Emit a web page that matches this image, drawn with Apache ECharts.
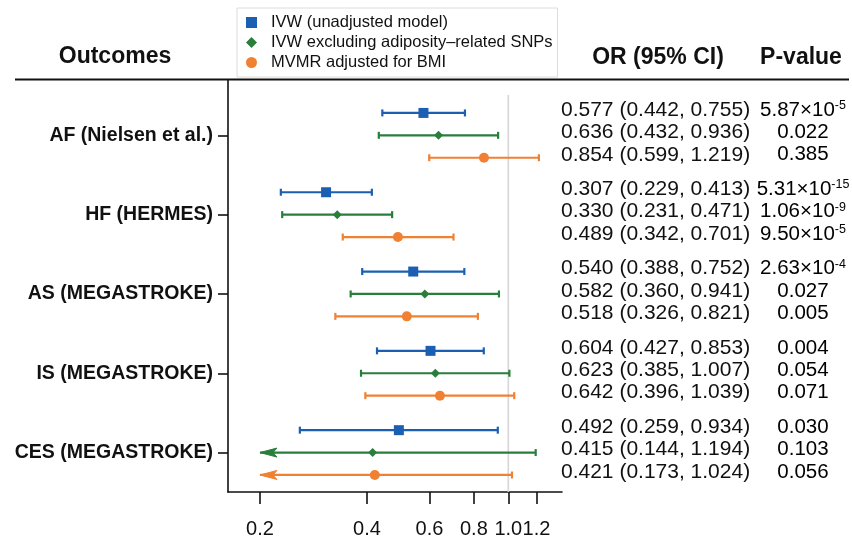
<!DOCTYPE html>
<html>
<head>
<meta charset="utf-8">
<script src="https://cdn.jsdelivr.net/npm/echarts@6/dist/echarts.min.js"></script>
<style>
html,body{margin:0;padding:0;background:#fff;}
#chart{width:852px;height:541px;}
</style>
</head>
<body>
<div id="chart"></div>
<script>
// ---------- data ----------
const outcomes = ['AF (Nielsen et al.)', 'HF (HERMES)', 'AS (MEGASTROKE)', 'IS (MEGASTROKE)', 'CES (MEGASTROKE)'];
const methods = ['IVW (unadjusted model)', 'IVW excluding adiposity\u2013related SNPs', 'MVMR adjusted for BMI'];

const orIVW  = [0.577, 0.307, 0.540, 0.604, 0.492];
const loIVW  = [0.442, 0.229, 0.388, 0.427, 0.259];
const hiIVW  = [0.755, 0.413, 0.752, 0.853, 0.934];
const pIVW   = ['5.87×10^-5', '5.31×10^-15', '2.63×10^-4', '0.004', '0.030'];

const orExcl = [0.636, 0.330, 0.582, 0.623, 0.415];
const loExcl = [0.432, 0.231, 0.360, 0.385, 0.144];
const hiExcl = [0.936, 0.471, 0.941, 1.007, 1.194];
const pExcl  = ['0.022', '1.06×10^-9', '0.027', '0.054', '0.103'];

const orMVMR = [0.854, 0.489, 0.518, 0.642, 0.421];
const loMVMR = [0.599, 0.342, 0.326, 0.396, 0.173];
const hiMVMR = [1.219, 0.701, 0.821, 1.039, 1.024];
const pMVMR  = ['0.385', '9.50×10^-5', '0.005', '0.071', '0.056'];

const tickValues = [0.2, 0.4, 0.6, 0.8, 1.0, 1.2];
const tickLabels = ['0.2', '0.4', '0.6', '0.8', '1.0', '1.2'];
const clipLow = 0.2;
const refValue = 1.0;

// ---------- layout helpers ----------
const colors = ['#1b5fb3', '#2a7e3b', '#f08133'];
const symbols = ['rect', 'diamond', 'circle'];
const symSizes = [10, 9, 10];
const groupStep = 3.54;
const xMinVal = 0.1626, xMaxVal = 1.416;
const yMin = -1.47, yMax = 16.92;
const FONT = '"Liberation Sans", Arial, Helvetica, sans-serif';

const methodData = [
  {or: orIVW, lo: loIVW, hi: hiIVW, p: pIVW},
  {or: orExcl, lo: loExcl, hi: hiExcl, p: pExcl},
  {or: orMVMR, lo: loMVMR, hi: hiMVMR, p: pMVMR}
];
function rowPos(g, r) { return g * groupStep + r; }
const groupCenters = outcomes.map((_, g) => rowPos(g, 1));
const fmt = v => v.toFixed(3);

const series = [];
methodData.forEach((m, mi) => {
  const barData = m.or.map((_, g) => {
    const clipped = m.lo[g] < clipLow ? 1 : 0;
    return [rowPos(g, mi), Math.log(Math.max(m.lo[g], clipLow)), Math.log(m.hi[g]), clipped];
  });
  series.push({
    type: 'custom',
    name: 'ci' + mi,
    data: barData,
    encode: {x: [1, 2], y: 0},
    clip: false,
    z: 2,
    renderItem: function (params, api) {
      const y = api.value(0);
      const p1 = api.coord([api.value(1), y]);
      const p2 = api.coord([api.value(2), y]);
      const clipped = api.value(3) === 1;
      const st = {stroke: colors[mi], lineWidth: 2.2};
      const ch = [
        {type: 'line', shape: {x1: p1[0], y1: p1[1], x2: p2[0], y2: p2[1]}, style: st},
        {type: 'line', shape: {x1: p2[0], y1: p2[1] - 3.5, x2: p2[0], y2: p2[1] + 3.5}, style: st}
      ];
      if (clipped) {
        ch.push({type: 'polygon', shape: {points: [
          [p1[0], p1[1]], [p1[0] + 17, p1[1] - 4.5], [p1[0] + 13, p1[1]], [p1[0] + 17, p1[1] + 4.5]
        ]}, style: {fill: colors[mi], stroke: colors[mi], lineWidth: 1}});
      } else {
        ch.push({type: 'line', shape: {x1: p1[0], y1: p1[1] - 3.5, x2: p1[0], y2: p1[1] + 3.5}, style: st});
      }
      return {type: 'group', children: ch};
    }
  });
  series.push({
    type: 'scatter',
    name: methods[mi],
    symbol: symbols[mi],
    symbolSize: symSizes[mi],
    itemStyle: {color: colors[mi], opacity: 1},
    z: 3,
    data: m.or.map((v, g) => [Math.log(v), rowPos(g, mi)])
  });
  // text columns
  series.push({
    type: 'custom',
    name: 'txt' + mi,
    clip: false,
    silent: true,
    z: 4,
    data: m.or.map((v, g) => [0, rowPos(g, mi), g]),
    encode: {x: 0, y: 1},
    renderItem: function (params, api) {
      const g = api.value(2);
      const py = api.coord([0, api.value(1)])[1] - 3;
      const orText = fmt(m.or[g]) + ' (' + fmt(m.lo[g]) + ', ' + fmt(m.hi[g]) + ')';
      const ps = m.p[g];
      let pText;
      if (ps.indexOf('^') >= 0) {
        const parts = ps.split('^');
        pText = '{b|' + parts[0] + '}{s|' + parts[1] + '}';
      } else {
        pText = '{b|' + ps + '}';
      }
      return {type: 'group', children: [
        {type: 'text', x: 561, y: py, style: {text: orText, font: '21px ' + FONT, fill: '#111',
          textAlign: 'left', textVerticalAlign: 'middle'}},
        {type: 'text', x: 803, y: py, style: {text: pText, textAlign: 'center', textVerticalAlign: 'middle',
          rich: {
            b: {fontSize: 20.5, fontFamily: FONT, color: '#111', lineHeight: 22},
            s: {fontSize: 12.5, fontFamily: FONT, color: '#111', lineHeight: 22, verticalAlign: 'top'}
          }}}
      ]};
    }
  });
});

// reference line at OR = 1
series.push({
  type: 'line',
  name: 'ref',
  data: [[Math.log(refValue), -0.8], [Math.log(refValue), yMax]],
  symbol: 'none',
  lineStyle: {color: '#d6d6d6', width: 1.6},
  z: 1,
  silent: true
});

const chart = echarts.init(document.getElementById('chart'), null, {renderer: 'canvas'});
chart.setOption({
  animation: false,
  backgroundColor: '#fff',
  grid: {left: 228, top: 80, width: 334, height: 412, containLabel: false},
  xAxis: {
    type: 'value',
    min: Math.log(xMinVal),
    max: Math.log(xMaxVal),
    splitLine: {show: false},
    axisLine: {show: true, onZero: false, lineStyle: {color: '#111', width: 1.6}},
    axisTick: {show: true, customValues: tickValues.map(Math.log), length: 12, lineStyle: {color: '#111', width: 1.6}},
    axisLabel: {
      show: true,
      customValues: tickValues.map(Math.log),
      margin: 27,
      fontSize: 20,
      fontFamily: FONT,
      color: '#111',
      formatter: function (v) {
        let best = 0;
        tickValues.forEach((t, i) => { if (Math.abs(Math.log(t) - v) < Math.abs(Math.log(tickValues[best]) - v)) best = i; });
        return tickLabels[best];
      }
    }
  },
  yAxis: {
    type: 'value',
    inverse: true,
    min: yMin,
    max: yMax,
    splitLine: {show: false},
    axisLine: {show: true, onZero: false, lineStyle: {color: '#111', width: 1.6}},
    axisTick: {show: true, customValues: groupCenters, length: 10, lineStyle: {color: '#111', width: 1.6}},
    axisLabel: {
      show: true,
      customValues: groupCenters,
      margin: 15,
      fontSize: 19.5,
      fontWeight: 'bold',
      fontFamily: FONT,
      color: '#111',
      formatter: function (v) {
        let best = 0;
        groupCenters.forEach((c, i) => { if (Math.abs(c - v) < Math.abs(groupCenters[best] - v)) best = i; });
        return outcomes[best];
      }
    }
  },
  legend: {
    orient: 'vertical',
    left: 237,
    top: 8,
    padding: [6, 5, 6, 9],
    itemGap: 3,
    itemWidth: 11,
    itemHeight: 11,
    backgroundColor: '#fff',
    borderColor: '#dcdcdc',
    borderWidth: 1,
    selectedMode: false,
    textStyle: {fontSize: 16.5, fontFamily: FONT, color: '#111', lineHeight: 17, padding: [0, 0, 0, 9]},
    data: methods.map((n, i) => ({name: n, icon: symbols[i]}))
  },
  graphic: [
    {type: 'line', shape: {x1: 15, y1: 79.5, x2: 849, y2: 79.5}, style: {stroke: '#111', lineWidth: 1.8}, z: 10},
    {type: 'text', x: 115, y: 57, style: {text: 'Outcomes', font: 'bold 23px ' + FONT, fill: '#111', textAlign: 'center', textVerticalAlign: 'middle'}},
    {type: 'text', x: 658, y: 58, style: {text: 'OR (95% CI)', font: 'bold 23px ' + FONT, fill: '#111', textAlign: 'center', textVerticalAlign: 'middle'}},
    {type: 'text', x: 801, y: 58, style: {text: 'P-value', font: 'bold 23px ' + FONT, fill: '#111', textAlign: 'center', textVerticalAlign: 'middle'}}
  ],
  series: series
});
</script>
</body>
</html>
